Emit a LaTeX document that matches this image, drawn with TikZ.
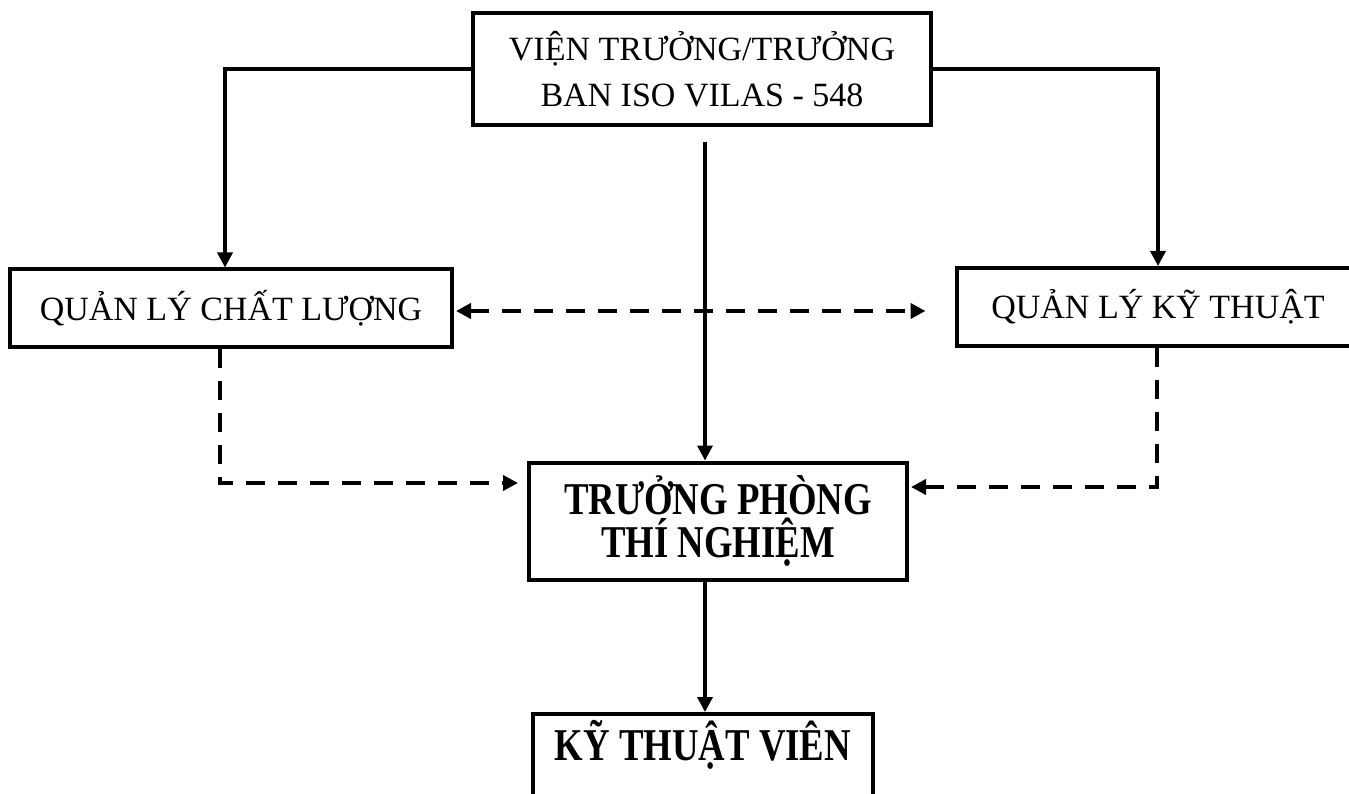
\documentclass[tikz,border=0pt]{standalone}
\usepackage{fontspec}
\setmainfont{Liberation Serif}
\usetikzlibrary{arrows.meta}
\newcommand\tallb[1]{\scalebox{1.05}[1.3]{#1}}
\begin{document}
\begin{tikzpicture}[x=1pt,y=-1pt,
  box/.style={draw,line width=4pt,rectangle,inner sep=0pt,align=center,font=\fontsize{34}{46}\selectfont},
  bbox/.style={box,font=\fontsize{35}{43}\selectfont\bfseries},
  conn/.style={line width=3.5pt,-{Triangle[length=15pt,width=15pt]}},
  dconn/.style={line width=4pt,dash pattern=on 19pt off 13pt,-{Triangle[length=15pt,width=15pt]}}
]
\clip (0,0) rectangle (1349,794);
\fill[white] (0,0) rectangle (1349,794);
\node[box,minimum width=458pt,minimum height=112pt] (top) at (702,69) {VIỆN TRƯỞNG/TRƯỞNG\\BAN ISO VILAS - 548};
\node[box,minimum width=442pt,minimum height=77pt] (qlcl) at (231,308) {QUẢN LÝ CHẤT LƯỢNG};
\node[box,minimum width=403pt,minimum height=78pt] (qlkt) at (1158,307) {QUẢN LÝ KỸ THUẬT};
\node[bbox,minimum width=378pt,minimum height=117pt] (tptn) at (718,521) {\tallb{TRƯỞNG PHÒNG}\\\tallb{THÍ NGHIỆM}};
\node[bbox,minimum width=340pt,anchor=north,text height=46pt,text depth=120pt] (ktv) at (703,712) {\tallb{KỸ THUẬT VIÊN}};
\draw[conn] (top.west) -| ([xshift=-6pt]qlcl.north);
\draw[conn] (top.east) -| (qlkt.north);
\draw[conn,shorten <=15pt] ([xshift=3pt]top.south) -- ([xshift=-13pt]tptn.north);
\draw[conn] ([xshift=-13pt]tptn.south) -- ([xshift=-13pt]tptn.south |- ktv.north);
\draw[dconn,{Triangle[length=15pt,width=15pt]}-{Triangle[length=15pt,width=15pt]},shorten <=2pt,shorten >=29pt] ([yshift=-3pt]qlcl.east) -- ([yshift=-3pt]qlcl.east -| qlkt.west);
\draw[dconn,shorten >=9pt] ([xshift=-11pt]qlcl.south) |- ([yshift=38pt]tptn.west);
\draw[dconn,shorten >=2pt] ([xshift=-1pt]qlkt.south) |- ([yshift=34pt]tptn.east);
\end{tikzpicture}
\end{document}
